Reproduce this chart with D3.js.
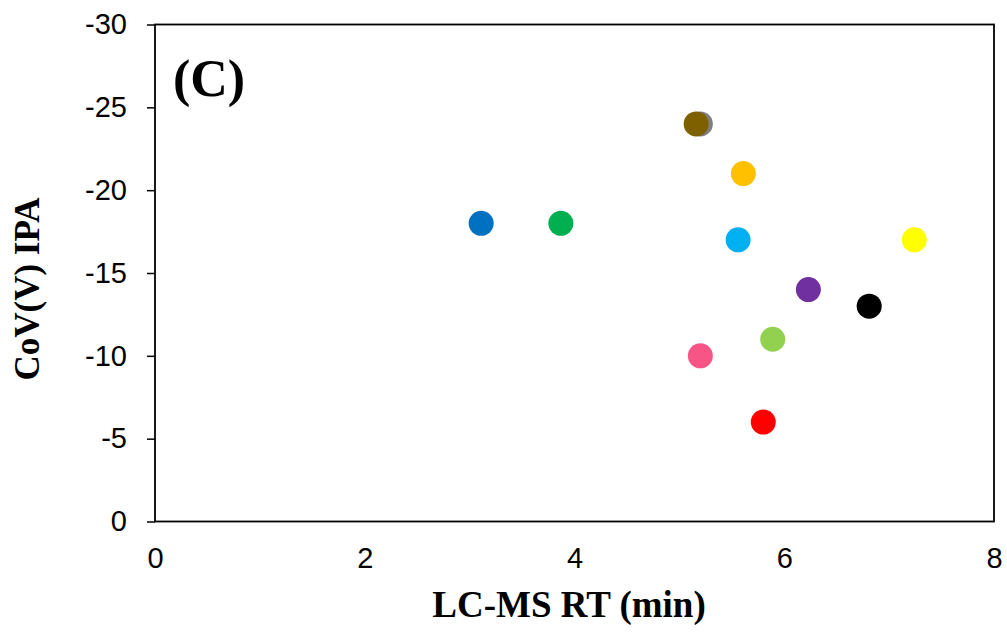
<!DOCTYPE html>
<html>
<head>
<meta charset="utf-8">
<script src="https://cdn.jsdelivr.net/npm/d3@7"></script>
<style>
  body { margin: 0; background: #fff; }
</style>
</head>
<body>
<div id="chart"></div>
<script>
// retention time (min) vs compensation voltage (V)
var rtValues = [3.11, 3.87, 5.20, 5.16, 5.61, 5.56, 7.24, 6.23, 6.81, 5.89, 5.20, 5.80];
var covValues = [-18, -18, -24, -24, -21, -17, -17, -14, -13, -11, -10, -6];
var pointColors = ['#0070C0', '#00B050', '#7F7F7F', '#7F6000', '#FFC000', '#00B0F0',
                   '#FFFF00', '#7030A0', '#000000', '#92D050', '#F75585', '#FF0000'];
var xTicks = [0, 2, 4, 6, 8];
var yTicks = [0, -5, -10, -15, -20, -25, -30];

var width = 1007;
var height = 632;
var margins = {left: 155, right: 13, top: 24.5, bottom: 110.5};
var plotW = width - margins.left - margins.right;
var plotH = height - margins.top - margins.bottom;

var svg = d3.select('#chart').append('svg')
            .attr('width', width)
            .attr('height', height);

var x = d3.scaleLinear().domain([0, 8]).range([0, plotW]);
var y = d3.scaleLinear().domain([0, -30]).range([plotH, 0]);

// plain hyphen for negatives, like the original
var fmt = function(d) { return String(d); };

var g = svg.append('g')
           .attr('transform', 'translate(' + margins.left + ',' + margins.top + ')');

// y axis, ticks outward
var yAxis = d3.axisLeft(y)
              .tickValues(yTicks)
              .tickSizeOuter(0)
              .tickSizeInner(8)
              .tickPadding(20)
              .tickFormat(fmt);
var yg = g.append('g').call(yAxis);

// x axis, no tick marks
var xAxis = d3.axisBottom(x)
              .tickValues(xTicks)
              .tickSizeOuter(0)
              .tickSizeInner(0)
              .tickPadding(26)
              .tickFormat(fmt);
var xg = g.append('g').attr('transform', 'translate(0,' + plotH + ')').call(xAxis);

[yg, xg].forEach(function(a) {
  a.select('.domain').remove();
  a.selectAll('.tick line').attr('stroke', '#000').attr('stroke-width', 1.5);
  a.selectAll('.tick text')
   .attr('fill', '#000')
   .style('font-family', '"Liberation Sans", Arial, sans-serif')
   .style('font-size', '29px');
});

// frame
g.append('rect')
 .attr('x', 0).attr('y', 0)
 .attr('width', plotW).attr('height', plotH)
 .attr('fill', 'none')
 .attr('stroke', '#000')
 .attr('stroke-width', 1.8);

// points
var points = rtValues.map(function(v, i) { return [v, covValues[i], pointColors[i]]; });
g.append('g').selectAll('circle').data(points)
 .enter().append('circle')
 .attr('cx', function(d) { return x(d[0]); })
 .attr('cy', function(d) { return y(d[1]); })
 .attr('r', 12.5)
 .attr('fill', function(d) { return d[2]; });

// panel label
g.append('text')
 .attr('x', 18).attr('y', 71)
 .style('font-family', '"Liberation Serif", "Times New Roman", serif')
 .style('font-weight', 'bold')
 .style('font-size', '52px')
 .text('(C)');

// axis titles
svg.append('text')
   .attr('x', 569)
   .attr('y', 617)
   .attr('text-anchor', 'middle')
   .style('font-family', '"Liberation Serif", "Times New Roman", serif')
   .style('font-weight', 'bold')
   .style('font-size', '37px')
   .text('LC-MS RT (min)');

svg.append('text')
   .attr('transform', 'translate(39,289) rotate(-90)')
   .attr('text-anchor', 'middle')
   .style('font-family', '"Liberation Serif", "Times New Roman", serif')
   .style('font-weight', 'bold')
   .style('font-size', '35px')
   .text('CoV(V) IPA');
</script>
</body>
</html>
